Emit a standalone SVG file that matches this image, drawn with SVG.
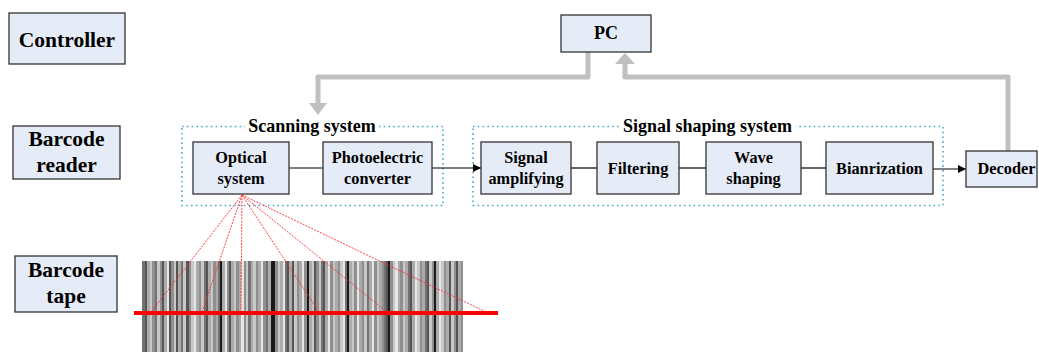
<svg xmlns="http://www.w3.org/2000/svg" width="1039" height="352" viewBox="0 0 1039 352">
<defs>
<style>
.box{fill:#e6ecf7;stroke:#333;stroke-width:1.3}
.t{font-family:"Liberation Serif","Times New Roman",serif;font-weight:bold;fill:#000;text-anchor:middle}
.big{font-size:21.5px}
.mid{font-size:16.3px}
.ttl{font-size:18px}
.dot{fill:none;stroke:#4aa8c8;stroke-width:1.6;stroke-dasharray:1.6 3.2}
.gray{fill:none;stroke:#c0c0c0;stroke-width:5;stroke-linejoin:round}
.blk{fill:none;stroke:#000;stroke-width:1.2}
.ray{fill:none;stroke:#ff2a2a;stroke-width:0.9;stroke-dasharray:2 1.2}
.g0{fill:#1a1a1a}.g1{fill:#555}.g2{fill:#737373}.g3{fill:#8f8f8f}.g4{fill:#ababab}.g5{fill:#c8c8c8}.g6{fill:#e6e6e6}
</style>
<marker id="ah" viewBox="0 0 10 10" refX="10" refY="5" markerWidth="8" markerHeight="8" markerUnits="userSpaceOnUse" orient="auto">
<path d="M0,0 L10,5 L0,10 z" fill="#000"/>
</marker>
</defs>

<rect width="1039" height="352" fill="#fff"/>

<!-- barcode tape image -->
<g id="barcode">
<rect x="142" y="261" width="321" height="91" fill="#999"/>
<g>
<rect x="142" y="261" width="3" height="91" class="g2"/><rect x="145" y="261" width="2" height="91" class="g1"/><rect x="147" y="261" width="3" height="91" class="g4"/><rect x="150" y="261" width="2" height="91" class="g5"/><rect x="152" y="261" width="3" height="91" class="g3"/><rect x="155" y="261" width="2" height="91" class="g2"/><rect x="157" y="261" width="3" height="91" class="g5"/><rect x="160" y="261" width="2" height="91" class="g3"/><rect x="162" y="261" width="2" height="91" class="g1"/><rect x="164" y="261" width="3" height="91" class="g4"/><rect x="167" y="261" width="2" height="91" class="g6"/><rect x="169" y="261" width="2" height="91" class="g1"/><rect x="171" y="261" width="3" height="91" class="g3"/><rect x="174" y="261" width="2" height="91" class="g5"/><rect x="176" y="261" width="2" height="91" class="g1"/><rect x="178" y="261" width="3" height="91" class="g4"/><rect x="181" y="261" width="2" height="91" class="g2"/><rect x="183" y="261" width="3" height="91" class="g5"/><rect x="186" y="261" width="3" height="91" class="g1"/><rect x="189" y="261" width="2" height="91" class="g3"/><rect x="191" y="261" width="3" height="91" class="g5"/><rect x="194" y="261" width="2" height="91" class="g6"/><rect x="196" y="261" width="3" height="91" class="g4"/><rect x="199" y="261" width="2" height="91" class="g3"/><rect x="201" y="261" width="3" height="91" class="g5"/><rect x="204" y="261" width="2" height="91" class="g2"/><rect x="206" y="261" width="2" height="91" class="g1"/><rect x="208" y="261" width="3" height="91" class="g4"/><rect x="211" y="261" width="2" height="91" class="g5"/><rect x="213" y="261" width="3" height="91" class="g3"/><rect x="216" y="261" width="2" height="91" class="g4"/><rect x="218" y="261" width="2" height="91" class="g2"/><rect x="220" y="261" width="2" height="91" class="g0"/><rect x="222" y="261" width="3" height="91" class="g4"/><rect x="225" y="261" width="2" height="91" class="g6"/><rect x="227" y="261" width="2" height="91" class="g3"/><rect x="229" y="261" width="2" height="91" class="g1"/><rect x="231" y="261" width="3" height="91" class="g4"/><rect x="234" y="261" width="2" height="91" class="g5"/><rect x="236" y="261" width="3" height="91" class="g3"/><rect x="239" y="261" width="2" height="91" class="g4"/><rect x="241" y="261" width="3" height="91" class="g6"/><rect x="244" y="261" width="2" height="91" class="g3"/><rect x="246" y="261" width="2" height="91" class="g5"/><rect x="248" y="261" width="3" height="91" class="g2"/><rect x="251" y="261" width="2" height="91" class="g4"/><rect x="253" y="261" width="3" height="91" class="g5"/><rect x="256" y="261" width="2" height="91" class="g3"/><rect x="258" y="261" width="3" height="91" class="g4"/><rect x="261" y="261" width="2" height="91" class="g6"/><rect x="263" y="261" width="3" height="91" class="g3"/><rect x="266" y="261" width="2" height="91" class="g2"/><rect x="268" y="261" width="3" height="91" class="g4"/><rect x="271" y="261" width="4" height="91" class="g0"/><rect x="275" y="261" width="3" height="91" class="g3"/><rect x="278" y="261" width="2" height="91" class="g5"/><rect x="280" y="261" width="3" height="91" class="g4"/><rect x="283" y="261" width="2" height="91" class="g6"/><rect x="285" y="261" width="2" height="91" class="g2"/><rect x="287" y="261" width="2" height="91" class="g1"/><rect x="289" y="261" width="3" height="91" class="g4"/><rect x="292" y="261" width="2" height="91" class="g1"/><rect x="294" y="261" width="3" height="91" class="g5"/><rect x="297" y="261" width="2" height="91" class="g3"/><rect x="299" y="261" width="3" height="91" class="g4"/><rect x="302" y="261" width="2" height="91" class="g6"/><rect x="304" y="261" width="3" height="91" class="g3"/><rect x="307" y="261" width="2" height="91" class="g0"/><rect x="309" y="261" width="3" height="91" class="g4"/><rect x="312" y="261" width="2" height="91" class="g5"/><rect x="314" y="261" width="2" height="91" class="g1"/><rect x="316" y="261" width="3" height="91" class="g3"/><rect x="319" y="261" width="2" height="91" class="g5"/><rect x="321" y="261" width="2" height="91" class="g2"/><rect x="323" y="261" width="2" height="91" class="g1"/><rect x="325" y="261" width="3" height="91" class="g4"/><rect x="328" y="261" width="2" height="91" class="g6"/><rect x="330" y="261" width="3" height="91" class="g3"/><rect x="333" y="261" width="2" height="91" class="g5"/><rect x="335" y="261" width="3" height="91" class="g4"/><rect x="338" y="261" width="2" height="91" class="g3"/><rect x="340" y="261" width="3" height="91" class="g5"/><rect x="343" y="261" width="2" height="91" class="g6"/><rect x="345" y="261" width="2" height="91" class="g2"/><rect x="347" y="261" width="2" height="91" class="g0"/><rect x="349" y="261" width="3" height="91" class="g4"/><rect x="352" y="261" width="2" height="91" class="g5"/><rect x="354" y="261" width="3" height="91" class="g3"/><rect x="357" y="261" width="2" height="91" class="g6"/><rect x="359" y="261" width="3" height="91" class="g4"/><rect x="362" y="261" width="2" height="91" class="g3"/><rect x="364" y="261" width="3" height="91" class="g5"/><rect x="367" y="261" width="2" height="91" class="g2"/><rect x="369" y="261" width="3" height="91" class="g4"/><rect x="372" y="261" width="2" height="91" class="g6"/><rect x="374" y="261" width="3" height="91" class="g3"/><rect x="377" y="261" width="2" height="91" class="g5"/><rect x="379" y="261" width="3" height="91" class="g4"/><rect x="382" y="261" width="2" height="91" class="g3"/><rect x="384" y="261" width="2" height="91" class="g2"/><rect x="386" y="261" width="2" height="91" class="g1"/><rect x="388" y="261" width="2" height="91" class="g0"/><rect x="390" y="261" width="3" height="91" class="g3"/><rect x="393" y="261" width="2" height="91" class="g5"/><rect x="395" y="261" width="3" height="91" class="g6"/><rect x="398" y="261" width="2" height="91" class="g4"/><rect x="400" y="261" width="3" height="91" class="g3"/><rect x="403" y="261" width="2" height="91" class="g5"/><rect x="405" y="261" width="3" height="91" class="g4"/><rect x="408" y="261" width="2" height="91" class="g2"/><rect x="410" y="261" width="2" height="91" class="g1"/><rect x="412" y="261" width="3" height="91" class="g4"/><rect x="415" y="261" width="2" height="91" class="g6"/><rect x="417" y="261" width="3" height="91" class="g5"/><rect x="420" y="261" width="2" height="91" class="g3"/><rect x="422" y="261" width="3" height="91" class="g4"/><rect x="425" y="261" width="2" height="91" class="g2"/><rect x="427" y="261" width="2" height="91" class="g1"/><rect x="429" y="261" width="3" height="91" class="g5"/><rect x="432" y="261" width="2" height="91" class="g3"/><rect x="434" y="261" width="2" height="91" class="g0"/><rect x="436" y="261" width="3" height="91" class="g4"/><rect x="439" y="261" width="2" height="91" class="g6"/><rect x="441" y="261" width="3" height="91" class="g5"/><rect x="444" y="261" width="2" height="91" class="g3"/><rect x="446" y="261" width="3" height="91" class="g4"/><rect x="449" y="261" width="2" height="91" class="g1"/><rect x="451" y="261" width="3" height="91" class="g5"/><rect x="454" y="261" width="2" height="91" class="g3"/><rect x="456" y="261" width="2" height="91" class="g1"/><rect x="458" y="261" width="3" height="91" class="g4"/><rect x="461" y="261" width="2" height="91" class="g3"/>
</g>
</g>

<!-- dotted system groups -->
<g id="scanning-system">
<rect x="182" y="126.5" width="261" height="79" class="dot"/>
<rect x="245" y="116" width="134" height="18" fill="#fff"/>
<text x="312" y="132" class="t ttl">Scanning system</text>
</g>
<g id="signal-shaping-system">
<rect x="473" y="126.5" width="470" height="79" class="dot"/>
<rect x="619" y="116" width="177" height="18" fill="#fff"/>
<text x="707.5" y="132" class="t ttl">Signal shaping system</text>
</g>

<!-- connectors -->
<g id="connectors">
<path class="gray" d="M588,52 V77 H318 V104"/>
<path d="M309,103 L327,103 L318,115 z" fill="#c0c0c0"/>
<path class="gray" d="M1008,151 V77 H625 V63"/>
<path d="M615,64 L635,64 L625,53 z" fill="#c0c0c0"/>
<line x1="289" y1="168" x2="323" y2="168" class="blk"/>
<line x1="432" y1="168" x2="481" y2="168" class="blk" marker-end="url(#ah)"/>
<line x1="571" y1="168" x2="597" y2="168" class="blk"/>
<line x1="679" y1="168" x2="706" y2="168" class="blk"/>
<line x1="801" y1="168" x2="826" y2="168" class="blk"/>
<line x1="933" y1="169" x2="966" y2="169" class="blk" marker-end="url(#ah)"/>
<g id="scan-rays">
<line x1="242" y1="195" x2="151" y2="312" class="ray"/>
<line x1="242" y1="195" x2="202" y2="312" class="ray"/>
<line x1="242" y1="195" x2="241" y2="312" class="ray"/>
<line x1="242" y1="195" x2="319" y2="312" class="ray"/>
<line x1="242" y1="195" x2="387" y2="312" class="ray"/>
<line x1="242" y1="195" x2="486" y2="312" class="ray"/>
</g>
<line x1="134" y1="313" x2="498" y2="313" stroke="#ff0000" stroke-width="4"/>
</g>

<!-- left labels -->
<g id="controller">
<rect x="9" y="13" width="116" height="51" class="box"/>
<text x="67" y="47" class="t big">Controller</text>
</g>
<g id="barcode-reader">
<rect x="13" y="126" width="107" height="53" class="box"/>
<text x="66.5" y="146" class="t big">Barcode</text>
<text x="66.5" y="172" class="t big">reader</text>
</g>
<g id="barcode-tape">
<rect x="15" y="256" width="102" height="56" class="box"/>
<text x="66" y="277" class="t big">Barcode</text>
<text x="66" y="303" class="t big">tape</text>
</g>

<!-- nodes -->
<g id="pc">
<rect x="561" y="15" width="90" height="37" class="box"/>
<text x="606" y="39" class="t ttl">PC</text>
</g>
<g id="optical-system">
<rect x="193" y="142" width="96" height="52" class="box"/>
<text x="241" y="163" class="t mid">Optical</text>
<text x="241" y="184" class="t mid">system</text>
</g>
<g id="photoelectric-converter">
<rect x="323" y="142" width="109" height="52" class="box"/>
<text x="377.5" y="163" class="t mid">Photoelectric</text>
<text x="377.5" y="184" class="t mid">converter</text>
</g>
<g id="signal-amplifying">
<rect x="481" y="142" width="90" height="52" class="box"/>
<text x="526" y="163" class="t mid">Signal</text>
<text x="526" y="184" class="t mid">amplifying</text>
</g>
<g id="filtering">
<rect x="597" y="142" width="82" height="52" class="box"/>
<text x="638" y="174" class="t mid">Filtering</text>
</g>
<g id="wave-shaping">
<rect x="706" y="142" width="95" height="52" class="box"/>
<text x="753.5" y="163" class="t mid">Wave</text>
<text x="753.5" y="184" class="t mid">shaping</text>
</g>
<g id="bianrization">
<rect x="826" y="142" width="107" height="52" class="box"/>
<text x="879.5" y="174" class="t mid">Bianrization</text>
</g>
<g id="decoder">
<rect x="966" y="151" width="71" height="36" class="box"/>
<text x="1006.5" y="174" class="t mid">Decoder</text>
</g>
</svg>
